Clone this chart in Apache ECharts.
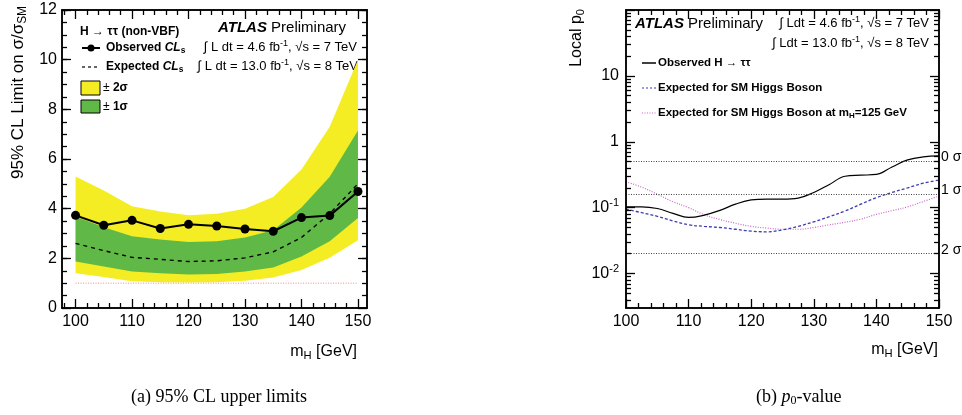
<!DOCTYPE html>
<html>
<head>
<meta charset="utf-8">
<title>H tautau limits and p0</title>
<script src="https://cdn.jsdelivr.net/npm/echarts@6/dist/echarts.min.js"></script>
<style>
  html, body { margin: 0; padding: 0; background: #fff; }
  #chart { width: 962px; height: 415px; }
</style>
</head>
<body>
<div id="chart"></div>
<script>
// --- (a) 95% CL limits, one point every 5 GeV
const massLimit = [100, 105, 110, 115, 120, 125, 130, 135, 140, 145, 150]
const observedLimit = [3.73, 3.33, 3.53, 3.2, 3.37, 3.3, 3.18, 3.09, 3.64, 3.72, 4.69]
const expectedLimit = [2.6, 2.31, 2.04, 1.96, 1.87, 1.9, 2.02, 2.26, 2.84, 3.8, 5.0]
const minus2 = [1.4, 1.25, 1.08, 1.04, 1.03, 1.04, 1.1, 1.23, 1.53, 2.02, 2.73]
const minus1 = [1.87, 1.67, 1.47, 1.4, 1.35, 1.37, 1.47, 1.63, 2.07, 2.69, 3.62]
const plus1 = [3.68, 3.25, 2.89, 2.76, 2.66, 2.69, 2.84, 3.13, 4.05, 5.29, 7.15]
const plus2 = [5.3, 4.73, 4.1, 3.89, 3.73, 3.8, 4.0, 4.47, 5.58, 7.3, 10.0]
const smLevel = 1

// --- (b) local p0, one point every 2.5 GeV
const massP = [100, 102.5, 105, 107.5, 110, 112.5, 115, 117.5, 120, 122.5, 125,
  127.5, 130, 132.5, 135, 137.5, 140, 142.5, 145, 147.5, 150]
const observedP = [0.103, 0.103, 0.097, 0.082, 0.071, 0.077, 0.091, 0.113, 0.131, 0.135, 0.135,
  0.14, 0.17, 0.225, 0.3, 0.311, 0.319, 0.415, 0.53, 0.59, 0.61]
const expectedP = [0.095, 0.084, 0.074, 0.063, 0.055, 0.052, 0.05, 0.047, 0.044, 0.043, 0.046,
  0.052, 0.061, 0.073, 0.089, 0.113, 0.142, 0.17, 0.2, 0.235, 0.262]
const expected125P = [0.247, 0.205, 0.16, 0.123, 0.1, 0.078, 0.066, 0.058, 0.052, 0.049, 0.047,
  0.047, 0.05, 0.055, 0.06, 0.067, 0.079, 0.09, 0.103, 0.124, 0.15]
const sigmaP = [0.5, 0.1587, 0.02275]
const sigmaLabels = ['0 σ', '1 σ', '2 σ']

// tick labels
const limitXLabels = [100, 110, 120, 130, 140, 150]
const limitYLabels = [0, 2, 4, 6, 8, 10, 12]
const pXLabels = [100, 110, 120, 130, 140, 150]
const pYLabels = [0.01, 0.1, 1, 10]

const FONT = 'Liberation Sans'
const YELLOW = '#f5ed23'
const GREEN = '#60b946'

// minor tick positions
const limitXMinor = [], pXMinor = [], limitYMinor = [], pYMinor = []
for (let m = 98; m <= 150; m += 2) if (m % 10) { limitXMinor.push(m); pXMinor.push(m) }
for (let v = 0.5; v < 12; v += 1) limitYMinor.push(v), limitYMinor.push(v + 0.5)
for (let d = -3; d <= 1; d++) {
  for (let k = 2; k <= 9; k++) {
    let v = Number((k * Math.pow(10, d)).toPrecision(3))
    if (v > 0.003 && v < 100) pYMinor.push(v)
  }
}

const zip = (xs, ys) => xs.map((x, i) => [x, ys[i]])

function axis(kind, grid, pos, min, max, ticks, len, labels, extra) {
  let a = {
    type: kind, gridIndex: grid, position: pos, min: min, max: max, z: 5,
    axisLine: { show: true, onZero: false, lineStyle: { color: '#000', width: 1.5 } },
    axisTick: { show: true, inside: true, length: len, customValues: ticks,
      lineStyle: { color: '#000', width: 1.3 } },
    axisLabel: { show: false },
    splitLine: { show: false },
    minorTick: { show: false }
  }
  if (labels) {
    a.axisLabel = Object.assign({
      show: true, customValues: labels, color: '#000', fontSize: 16, fontFamily: FONT
    }, extra || {})
  }
  return a
}

const majorPY = [0.01, 0.1, 1, 10, 100]

const xAxes = [
  axis('value', 0, 'bottom', 97.6, 151.6, limitXLabels, 9, limitXLabels, { margin: 6 }),
  axis('value', 0, 'bottom', 97.6, 151.6, limitXMinor, 5),
  axis('value', 0, 'top', 97.6, 151.6, limitXLabels, 9),
  axis('value', 0, 'top', 97.6, 151.6, limitXMinor, 5),
  axis('value', 1, 'bottom', 100, 150, pXLabels, 9, pXLabels, { margin: 6 }),
  axis('value', 1, 'bottom', 100, 150, pXMinor, 5),
  axis('value', 1, 'top', 100, 150, pXLabels, 9),
  axis('value', 1, 'top', 100, 150, pXMinor, 5)
]

const yAxes = [
  axis('value', 0, 'left', 0, 12, limitYLabels, 9, limitYLabels, { margin: 5 }),
  axis('value', 0, 'left', 0, 12, limitYMinor, 5),
  axis('value', 0, 'right', 0, 12, limitYLabels, 9),
  axis('value', 0, 'right', 0, 12, limitYMinor, 5),
  axis('log', 1, 'left', 0.003, 100, majorPY, 9, pYLabels, {
    margin: 7,
    formatter: v => v >= 1 ? String(v) : '10{sup|' + Math.round(Math.log10(v)) + '}',
    rich: { sup: { fontSize: 11, fontFamily: FONT, color: '#000', padding: [0, 0, 9, 0] } }
  }),
  axis('log', 1, 'left', 0.003, 100, pYMinor, 5),
  axis('log', 1, 'right', 0.003, 100, majorPY, 9),
  axis('log', 1, 'right', 0.003, 100, pYMinor, 5)
]
yAxes.forEach(a => { if (a.type === 'log') a.logBase = 10 })

const base = { type: 'line', symbol: 'none', silent: true, animation: false }

// filled band between lo and hi, drawn through the axes of panel (a)
function band(lo, hi, color) {
  return {
    type: 'custom', xAxisIndex: 0, yAxisIndex: 0, silent: true, animation: false, clip: true,
    data: massLimit.map((m, i) => [m, lo[i], hi[i]]),
    encode: { x: 0, y: [1, 2] },
    renderItem: (params, api) => {
      if (params.dataIndex !== 0) return null
      const pts = []
      massLimit.forEach((m, i) => pts.push(api.coord([m, hi[i]])))
      for (let i = massLimit.length - 1; i >= 0; i--) pts.push(api.coord([massLimit[i], lo[i]]))
      return { type: 'polygon', shape: { points: pts }, style: { fill: color } }
    }
  }
}

const series = [
  band(minus2, plus2, YELLOW),
  band(minus1, plus1, GREEN),
  Object.assign({}, base, { xAxisIndex: 0, yAxisIndex: 0, data: massLimit.map(m => [m, smLevel]),
    lineStyle: { color: '#f08a8a', width: 1, type: [1, 1.5] } }),
  Object.assign({}, base, { xAxisIndex: 0, yAxisIndex: 0, data: zip(massLimit, expectedLimit),
    lineStyle: { color: '#000', width: 1.4, type: [4, 4] } }),
  Object.assign({}, base, { xAxisIndex: 0, yAxisIndex: 0, data: zip(massLimit, observedLimit),
    symbol: 'circle', symbolSize: 9, showSymbol: true, itemStyle: { color: '#000' },
    lineStyle: { color: '#000', width: 2 } }),

  Object.assign({}, base, { xAxisIndex: 4, yAxisIndex: 4, data: zip(massP, expected125P), smooth: 0.4,
    lineStyle: { color: '#cc66cc', width: 1.2, type: [1, 1.5] } }),
  Object.assign({}, base, { xAxisIndex: 4, yAxisIndex: 4, data: zip(massP, expectedP), smooth: 0.4,
    lineStyle: { color: '#3c3cb0', width: 1.3, type: [3, 2] } }),
  Object.assign({}, base, { xAxisIndex: 4, yAxisIndex: 4, data: zip(massP, observedP), smooth: 0.4,
    lineStyle: { color: '#000', width: 1.2 },
    markLine: {
      silent: true, symbol: 'none', animation: false,
      lineStyle: { color: '#444', width: 1, type: [1, 1.5] },
      label: { show: true, position: 'end', distance: 2, color: '#000', fontSize: 14,
        fontFamily: FONT, offset: [0, -4], formatter: p => sigmaLabels[p.dataIndex] },
      data: sigmaP.map(v => ({ yAxis: v }))
    } })
]

function txt(x, y, text, size, opts) {
  return {
    type: 'text', x: x, y: y, silent: true, rotation: (opts && opts.rotation) || 0,
    style: Object.assign({
      text: text, fontSize: size, fontFamily: FONT, fill: '#000',
      textAlign: 'left', textVerticalAlign: 'middle'
    }, opts && opts.style)
  }
}

const supSub = size => ({
  b: { fontSize: size, fontFamily: FONT, fontWeight: 'bold' },
  bi: { fontSize: size, fontFamily: FONT, fontWeight: 'bold', fontStyle: 'italic' },
  s: { fontSize: size * 0.7, fontFamily: FONT, fontWeight: 'bold', padding: [size * 0.5, 0, 0, 0] },
  sub: { fontSize: size * 0.7, fontFamily: FONT, padding: [size * 0.5, 0, 0, 0] },
  sup: { fontSize: size * 0.7, fontFamily: FONT, padding: [0, 0, size * 0.55, 0] },
  a: { fontSize: size, fontFamily: FONT, fontWeight: 'bold', fontStyle: 'italic' },
  n: { fontSize: size, fontFamily: FONT }
})

const graphic = [
  // panel (a)
  txt(80, 32, 'H → ττ (non-VBF)', 12, { style: { fontWeight: 'bold' } }),
  txt(218, 28, '{a|ATLAS} {n|Preliminary}', 15, { style: { rich: supSub(15) } }),
  { type: 'line', silent: true, shape: { x1: 82, y1: 48, x2: 100, y2: 48 }, style: { stroke: '#000', lineWidth: 2 } },
  { type: 'circle', silent: true, shape: { cx: 91, cy: 48, r: 3.5 }, style: { fill: '#000' } },
  txt(106, 48, '{b|Observed }{bi|CL}{s|s}', 12, { style: { rich: supSub(12) } }),
  txt(357, 47, '∫ L dt = 4.6 fb{sup|-1}, √s = 7 TeV', 13, { style: { textAlign: 'right', rich: supSub(13) } }),
  { type: 'line', silent: true, shape: { x1: 82, y1: 67, x2: 100, y2: 67 }, style: { stroke: '#000', lineWidth: 1.2, lineDash: [3, 3] } },
  txt(106, 67, '{b|Expected }{bi|CL}{s|s}', 12, { style: { rich: supSub(12) } }),
  txt(358, 66, '∫ L dt = 13.0 fb{sup|-1}, √s = 8 TeV', 13, { style: { textAlign: 'right', rich: supSub(13) } }),
  { type: 'rect', silent: true, shape: { x: 81, y: 81, width: 19, height: 14 }, style: { fill: YELLOW, stroke: '#000', lineWidth: 1 } },
  txt(103, 88, '± {b|2σ}', 12, { style: { rich: supSub(12) } }),
  { type: 'rect', silent: true, shape: { x: 81, y: 100, width: 19, height: 13 }, style: { fill: GREEN, stroke: '#000', lineWidth: 1 } },
  txt(103, 107, '± {b|1σ}', 12, { style: { rich: supSub(12) } }),
  txt(18, 6, '95% CL Limit on σ/σ{sub|SM}', 17, { rotation: Math.PI / 2, style: { textAlign: 'right', rich: supSub(17) } }),
  txt(357, 352, 'm{sub|H} [GeV]', 16, { style: { textAlign: 'right', rich: supSub(16) } }),

  // panel (b)
  txt(635, 24, '{a|ATLAS} {n|Preliminary}', 15, { style: { rich: supSub(15) } }),
  txt(929, 23, '∫ Ldt = 4.6 fb{sup|-1}, √s = 7 TeV', 13, { style: { textAlign: 'right', rich: supSub(13) } }),
  txt(929, 43, '∫ Ldt = 13.0 fb{sup|-1}, √s = 8 TeV', 13, { style: { textAlign: 'right', rich: supSub(13) } }),
  { type: 'line', silent: true, shape: { x1: 642, y1: 63, x2: 656, y2: 63 }, style: { stroke: '#000', lineWidth: 1.5 } },
  txt(658, 63, 'Observed H → ττ', 11.5, { style: { fontWeight: 'bold' } }),
  { type: 'line', silent: true, shape: { x1: 642, y1: 88, x2: 656, y2: 88 }, style: { stroke: '#3c3cb0', lineWidth: 1.2, lineDash: [2, 2] } },
  txt(658, 88, 'Expected for SM Higgs Boson', 11.5, { style: { fontWeight: 'bold' } }),
  { type: 'line', silent: true, shape: { x1: 642, y1: 113, x2: 656, y2: 113 }, style: { stroke: '#cc66cc', lineWidth: 1.2, lineDash: [1, 1.5] } },
  txt(658, 113, '{b|Expected for SM Higgs Boson at m}{bs|H}{b|=125 GeV}', 11.5, { style: { rich: Object.assign(supSub(11.5), {
    bs: { fontSize: 8, fontFamily: FONT, fontWeight: 'bold', padding: [6, 0, 0, 0] } }) } }),
  txt(577, 9, 'Local p{sub|0}', 16, { rotation: Math.PI / 2, style: { textAlign: 'right', rich: supSub(16) } }),
  txt(938, 350, 'm{sub|H} [GeV]', 16, { style: { textAlign: 'right', rich: supSub(16) } }),

  // captions
  txt(131, 397, '(a) 95% CL upper limits', 18, { style: { fontFamily: 'Liberation Serif' } }),
  txt(756, 397, '(b) {i|p}{z|0}-value', 18, { style: { fontFamily: 'Liberation Serif', rich: {
    i: { fontSize: 18, fontFamily: 'Liberation Serif', fontStyle: 'italic' },
    z: { fontSize: 12, fontFamily: 'Liberation Serif', padding: [8, 0, 0, 0] } } } })
]

const chart = echarts.init(document.getElementById('chart'), null, { renderer: 'canvas' })
chart.setOption({
  animation: false,
  backgroundColor: '#fff',
  grid: [
    { left: 62, top: 10, width: 305, height: 298 },
    { left: 626, top: 10, width: 313, height: 298 }
  ],
  xAxis: xAxes,
  yAxis: yAxes,
  series: series,
  graphic: graphic
})
</script>
</body>
</html>
